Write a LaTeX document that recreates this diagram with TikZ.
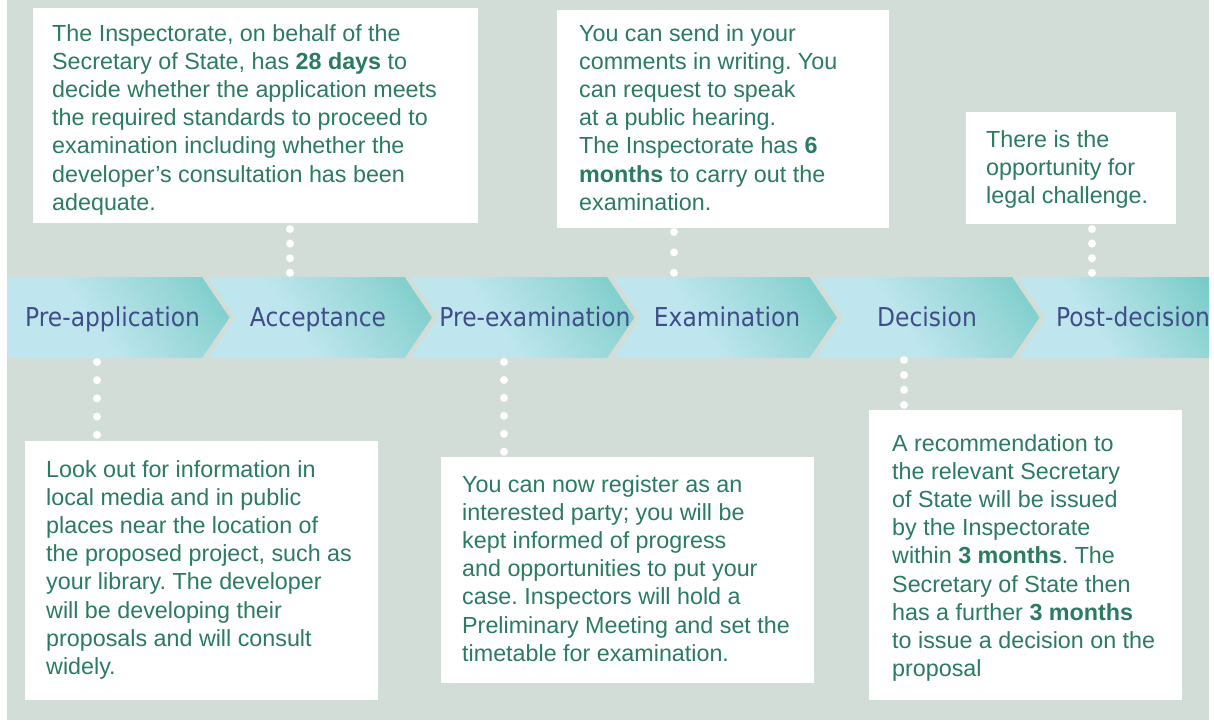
\documentclass[tikz,border=0pt]{standalone}
\usepackage{fontspec}
\newfontfamily\boxfont{Liberation Sans}
\newfontfamily\chevfont[FakeStretch=0.9]{DejaVu Sans}
\definecolor{bgc}{HTML}{D3DDD7}
\definecolor{chl}{HTML}{BFE6EE}
\definecolor{chm}{HTML}{96D6D7}
\definecolor{cht}{HTML}{55C0BA}
\definecolor{lab}{HTML}{414C8A}
\definecolor{txt}{HTML}{2A7B60}
\pgfdeclarehorizontalshading{chevshade}{100bp}{color(0bp)=(chl); color(42bp)=(chl); color(68bp)=(chm); color(100bp)=(cht)}
\frenchspacing
\begin{document}
\begin{tikzpicture}[x=1pt,y=-1pt,
  chev/.style={shading=chevshade, shading angle=35},
  chevlabel/.style={anchor=base, inner sep=0pt, text=lab, font=\chevfont\fontsize{26}{30}\selectfont},
  infobox/.style={fill=white, draw=none, anchor=north west, inner sep=0pt},
  infotext/.style={anchor=north west, inner sep=0pt, align=left, text=txt, font=\boxfont\fontsize{23.3}{28.2}\selectfont},
  dotline/.style={draw=white, line width=8pt, line cap=round}
]
\useasboundingbox (0,0) rectangle (1214,722);
\fill[white] (0,0) rectangle (1214,722);
\fill[bgc] (7,0) rectangle (1209,720);

% chevrons
\shade[chev] (7,277) -- (202,277) -- (229.5,317.5) -- (202,358) -- (7,358) -- cycle;
\shade[chev] (208,277) -- (404.5,277) -- (432,317.5) -- (404.5,358) -- (208,358) -- (235.5,317.5) -- cycle;
\shade[chev] (410.5,277) -- (607,277) -- (634.5,317.5) -- (607,358) -- (410.5,358) -- (438,317.5) -- cycle;
\shade[chev] (613,277) -- (809.5,277) -- (837,317.5) -- (809.5,358) -- (613,358) -- (640.5,317.5) -- cycle;
\shade[chev] (815.5,277) -- (1012,277) -- (1039.5,317.5) -- (1012,358) -- (815.5,358) -- (843,317.5) -- cycle;
\shade[chev] (1018,277) -- (1209,277) -- (1209,358) -- (1018,358) -- (1045.5,317.5) -- cycle;

\node[chevlabel] (c1) at (112.5,326) {Pre-application};
\node[chevlabel] (c2) at (318,326) {Acceptance};
\node[chevlabel] (c3) at (535,326) {Pre-examination};
\node[chevlabel] (c4) at (727,326) {Examination};
\node[chevlabel] (c5) at (927,326) {Decision};
\node[chevlabel] (c6) at (1133,326) {Post-decision};

% boxes
\node[infobox, minimum width=445pt, minimum height=215pt] (box1) at (33,8) {};
\node[infobox, minimum width=332pt, minimum height=218pt] (box2) at (557,10) {};
\node[infobox, minimum width=210pt, minimum height=112pt] (box3) at (966,112) {};
\node[infobox, minimum width=353pt, minimum height=259pt] (box4) at (25,441) {};
\node[infobox, minimum width=373pt, minimum height=226pt] (box5) at (441,457) {};
\node[infobox, minimum width=313pt, minimum height=290pt] (box6) at (869,410) {};

\node[infotext] (t1) at (52,24) {The Inspectorate, on behalf of the\\
Secretary of State, has {\bfseries 28 days} to\\
decide whether the application meets\\
the required standards to proceed to\\
examination including whether the\\
developer’s consultation has been\\
adequate.};

\node[infotext] (t2) at (579,24) {You can send in your\\
comments in writing. You\\
can request to speak\\
at a public hearing.\\
The Inspectorate has {\bfseries 6}\\
{\bfseries months} to carry out the\\
examination.};

\node[infotext] (t3) at (986,130) {There is the\\
opportunity for\\
legal challenge.};

\node[infotext] (t4) at (46,460) {Look out for information in\\
local media and in public\\
places near the location of\\
the proposed project, such as\\
your library. The developer\\
will be developing their\\
proposals and will consult\\
widely.};

\node[infotext] (t5) at (462,475) {You can now register as an\\
interested party; you will be\\
kept informed of progress\\
and opportunities to put your\\
case. Inspectors will hold a\\
Preliminary Meeting and set the\\
timetable for examination.};

\node[infotext] (t6) at (892,434) {A recommendation to\\
the relevant Secretary\\
of State will be issued\\
by the Inspectorate\\
within {\bfseries 3 months}. The\\
Secretary of State then\\
has a further {\bfseries 3 months}\\
to issue a decision on the\\
proposal};

% dotted connectors
\coordinate (d1s) at (290,229); \coordinate (d1e) at (290,273);
\coordinate (d2s) at (674,232); \coordinate (d2e) at (674,273);
\coordinate (d3s) at (1092,229); \coordinate (d3e) at (1092,273);
\coordinate (d4s) at (97,362); \coordinate (d4e) at (97,435);
\coordinate (d5s) at (504,362); \coordinate (d5e) at (504,452);
\coordinate (d6s) at (904,360); \coordinate (d6e) at (904,405);
\draw[dotline, dash pattern=on 0pt off 14.6pt] (d1s) -- (d1e);
\draw[dotline, dash pattern=on 0pt off 20.4pt] (d2s) -- (d2e);
\draw[dotline, dash pattern=on 0pt off 14.6pt] (d3s) -- (d3e);
\draw[dotline, dash pattern=on 0pt off 18.2pt] (d4s) -- (d4e);
\draw[dotline, dash pattern=on 0pt off 17.95pt] (d5s) -- (d5e);
\draw[dotline, dash pattern=on 0pt off 14.95pt] (d6s) -- (d6e);
\end{tikzpicture}
\end{document}
